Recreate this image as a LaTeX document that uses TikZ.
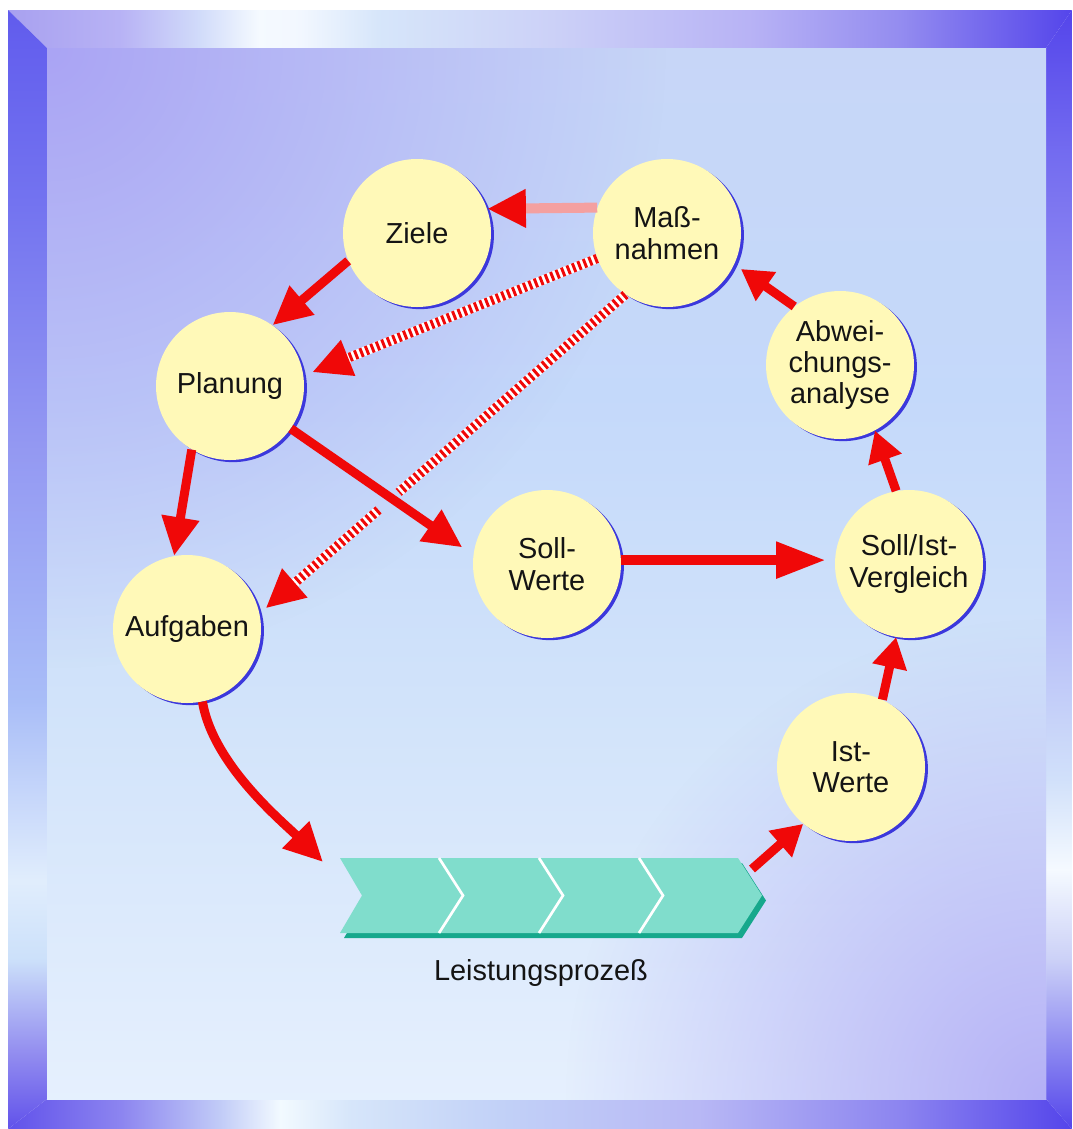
\documentclass[tikz,border=0pt]{standalone}
\usepackage{fontspec}
\setmainfont{Liberation Sans}
\usetikzlibrary{arrows.meta,calc,fadings}

\definecolor{cyel}{RGB}{255,249,184}
\definecolor{sblue}{RGB}{60,56,220}
\definecolor{ared}{RGB}{240,8,8}
\definecolor{apink}{RGB}{244,160,160}
\definecolor{chev}{RGB}{128,221,204}
\definecolor{chevs}{RGB}{22,168,140}
\definecolor{txt}{RGB}{20,20,20}
\definecolor{lavA}{RGB}{170,164,244}
\definecolor{lavB}{RGB}{180,176,246}

\pgfdeclarehorizontalshading{topstrip}{100bp}{rgb(0bp)=(0.66,0.63,0.94); rgb(25bp)=(0.66,0.63,0.94); rgb(30.3bp)=(0.72,0.70,0.96); rgb(34bp)=(0.82,0.86,0.98); rgb(36.8bp)=(0.96,0.98,1); rgb(38.7bp)=(0.95,0.97,1); rgb(42.5bp)=(0.84,0.90,0.98); rgb(50.5bp)=(0.80,0.82,0.97); rgb(59.9bp)=(0.72,0.70,0.96); rgb(66.9bp)=(0.58,0.55,0.94); rgb(75bp)=(0.33,0.27,0.92); rgb(100bp)=(0.33,0.27,0.92)}
\pgfdeclarehorizontalshading{botstrip}{100bp}{rgb(0bp)=(0.38,0.32,0.92); rgb(25bp)=(0.38,0.32,0.92); rgb(30.3bp)=(0.55,0.52,0.94); rgb(35bp)=(0.76,0.80,0.97); rgb(37.8bp)=(0.95,0.98,1); rgb(41.1bp)=(0.84,0.90,0.98); rgb(48.1bp)=(0.76,0.82,0.97); rgb(57.5bp)=(0.72,0.72,0.96); rgb(66.9bp)=(0.55,0.52,0.94); rgb(75bp)=(0.33,0.27,0.92); rgb(100bp)=(0.33,0.27,0.92)}
\pgfdeclareverticalshading{leftstrip}{100bp}{rgb(0bp)=(0.38,0.32,0.92); rgb(25bp)=(0.38,0.32,0.92); rgb(28.5bp)=(0.58,0.56,0.94); rgb(32.6bp)=(0.80,0.88,0.98); rgb(36.1bp)=(0.88,0.93,0.99); rgb(44.2bp)=(0.66,0.74,0.97); rgb(55.3bp)=(0.58,0.60,0.95); rgb(66.5bp)=(0.45,0.45,0.94); rgb(75bp)=(0.38,0.36,0.93); rgb(100bp)=(0.38,0.36,0.93)}
\pgfdeclareverticalshading{rightstrip}{100bp}{rgb(0bp)=(0.33,0.27,0.92); rgb(25bp)=(0.33,0.27,0.92); rgb(28.1bp)=(0.52,0.50,0.94); rgb(32.6bp)=(0.80,0.82,0.97); rgb(36.6bp)=(0.96,0.98,1); rgb(40.6bp)=(0.82,0.88,0.98); rgb(48.6bp)=(0.70,0.72,0.97); rgb(59.8bp)=(0.60,0.58,0.95); rgb(68.7bp)=(0.45,0.42,0.94); rgb(75bp)=(0.33,0.27,0.92); rgb(100bp)=(0.33,0.27,0.92)}
\pgfdeclareverticalshading{panelshade}{100bp}{rgb(0bp)=(0.90,0.94,0.995); rgb(25bp)=(0.90,0.94,0.995); rgb(44bp)=(0.82,0.89,0.98); rgb(58.3bp)=(0.77,0.85,0.98); rgb(75bp)=(0.78,0.84,0.97); rgb(100bp)=(0.78,0.84,0.97)}

\tikzfading[name=radfade, inner color=transparent!0, outer color=transparent!100]

\begin{document}
\begin{tikzpicture}[x=0.75pt,y=-0.75pt,
  bub/.style={circle, fill=cyel, minimum size=111pt, inner sep=0pt, align=center, text=txt,
    font=\fontsize{21.7pt}{23.5pt}\selectfont,
    preaction={fill=sblue, transform canvas={shift={(2.2pt,-1.6pt)}}}},
  rarrow/.style={draw=ared, line width=6.75pt, -{Triangle[length=29pt,width=27pt]}},
  sarrow/.style={draw=ared, line width=6.75pt, -{Triangle[length=23pt,width=25pt]}},
  hbase/.style={draw=white, line width=7pt},
  hred/.style={draw=ared, line width=7pt, dash pattern=on 2.2pt off 2.2pt},
  lbl/.style={font=\fontsize{21.7pt}{23.5pt}\selectfont, text=txt}]
\useasboundingbox (0,0) rectangle (1072,1129);
\fill[white] (0,0) rectangle (1072,1129);
% frame
\shade[shading=topstrip] (8,10) -- (1072,10) -- (1046,48) -- (47,48) -- cycle;
\shade[shading=botstrip] (8,1129) -- (47,1099) -- (1046,1099) -- (1072,1129) -- cycle;
\shade[shading=leftstrip] (8,10) -- (47,48) -- (47,1099) -- (8,1129) -- cycle;
\shade[shading=rightstrip] (1072,10) -- (1072,1129) -- (1046,1099) -- (1046,48) -- cycle;
% panel
\shade[shading=panelshade] (47,48) rectangle (1046,1099);
\begin{scope}
  \clip (47,48) rectangle (1046,1099);
  \fill[lavA, path fading=radfade] (47,48) circle (620);
  \fill[lavB, path fading=radfade] (1046,1099) circle (480);
\end{scope}

% process chevrons
\node[minimum width=317pt, minimum height=56pt, inner sep=0pt] (lp) at (551,895.5) {};
\fill[chevs] (344,863) -- (742,863) -- (766,900.5) -- (742,938) -- (344,938) -- (366,900.5) -- cycle;
\fill[chev] (340,858) -- (738,858) -- (762,895.5) -- (738,933) -- (340,933) -- (362,895.5) -- cycle;
\foreach \b in {439,539,639}{
  \draw[white, line width=2pt] (\b,858) -- (\b+24,895.5) -- (\b,933);
}
\node[lbl, anchor=base] (lpl) at (541,980) {Leistungsprozeß};
\coordinate (lpin) at (323,862);
\coordinate (lpout) at (752,869);

% nodes
\node[bub] (Z) at (417,233) {Ziele};
\node[bub] (M) at (667,233) {Maß-\\nahmen};
\node[bub] (P) at (230,386) {Planung};
\node[bub] (A) at (187,629) {Aufgaben};
\node[bub] (SW) at (547,564) {Soll-\\Werte};
\node[bub] (SI) at (909,564) {Soll/Ist-\\Vergleich};
\node[bub] (AB) at (840,365) {Abwei-\\chungs-\\analyse};
\node[bub] (IW) at (851,767) {Ist-\\Werte};

% hatched connectors
\draw[hbase, shorten >=24pt] (M.200) -- (P.8);
\draw[hred, -{Triangle[length=29pt,width=27pt]}, shorten >=7pt] (M.200) -- (P.8);
\draw[hbase] (M.236) -- ($(M.236)!0.62!(A.12)$);
\draw[hred] (M.236) -- ($(M.236)!0.62!(A.12)$);
\draw[hbase, shorten >=24pt] ($(M.236)!0.675!(A.12)$) -- (A.12);
\draw[hred, -{Triangle[length=29pt,width=27pt]}, shorten >=6pt] ($(M.236)!0.675!(A.12)$) -- (A.12);

% solid connectors
\draw[line width=7.5pt, draw=apink, -{Triangle[length=29pt,width=27pt,color=ared]}] (M.160) -- (Z.19);
\draw[rarrow] (Z.202) -- (P.55);
\draw[rarrow] (P.239) -- (A.100);
\draw[rarrow, shorten >=10pt] (P.325) -- (SW.173);
\draw[draw=ared, line width=7pt, -{Triangle[length=37pt,width=26pt]}, shorten >=7pt] (SW.3) -- (SI.177);
\draw[rarrow] (A.282) .. controls (213,765) and (283,822) .. (lpin);
\draw[sarrow] (lpout) -- (IW.230);
\draw[sarrow] (IW.65) -- (SI.260);
\draw[sarrow] (SI.100) -- (AB.298);
\draw[sarrow, shorten >=6pt] (AB.128) -- (M.335);
\end{tikzpicture}
\end{document}
